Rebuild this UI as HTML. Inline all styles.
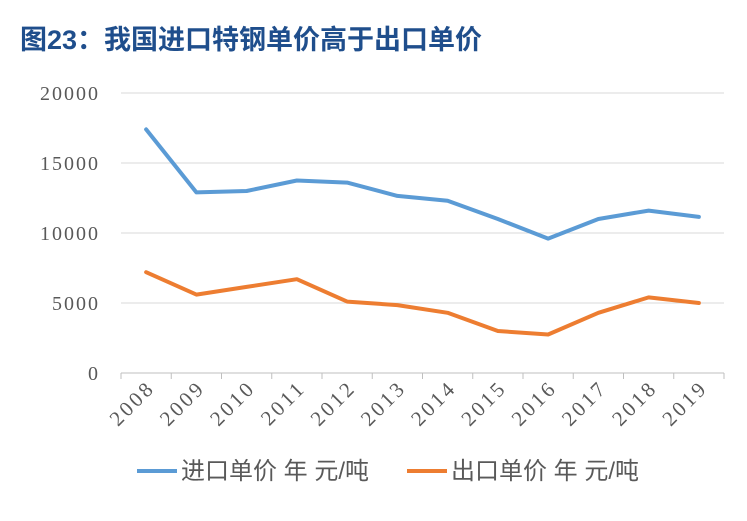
<!DOCTYPE html>
<html><head><meta charset="utf-8"><style>
body{margin:0;background:#fff;width:747px;height:521px;overflow:hidden}
#title{position:absolute;left:20px;top:18px;font:bold 27px "Liberation Sans","Noto Sans CJK SC",sans-serif;color:#1f4e8c;white-space:nowrap}
</style></head><body>
<div id="title">图23：我国进口特钢单价高于出口单价</div>
<svg id="chart" width="747" height="521" style="position:absolute;left:0;top:0"></svg>
<script>
const years=["2008","2009","2010","2011","2012","2013","2014","2015","2016","2017","2018","2019"];
const importPrice=[17400,12900,13000,13750,13600,12650,12300,11000,9600,11000,11600,11150];
const exportPrice=[7200,5600,6150,6700,5100,4850,4300,3000,2750,4300,5400,5000];
const yTicks=[0,5000,10000,15000,20000];
const svg=document.getElementById('chart');const NS='http://www.w3.org/2000/svg';
const L=121,R=724,T=93,B=373;
const step=(R-L)/years.length;
const x=i=>L+step*(i+0.5);
const y=v=>B-(v/20000)*(B-T);
function mk(t,a){const e=document.createElementNS(NS,t);for(const k in a)e.setAttribute(k,a[k]);svg.appendChild(e);return e;}
yTicks.forEach(v=>{
 const g=mk('line',{x1:L,x2:R,y1:y(v),y2:y(v),stroke:v===0?'#bfbfbf':'#d9d9d9','stroke-width':1});
 
 
 const t=mk('text',{x:100,y:y(v)+7,'text-anchor':'end','font-family':'Liberation Serif, serif','font-size':20,'letter-spacing':2,fill:'#595959'});
 t.textContent=v;
 
 
});
for(let i=0;i<=years.length;i++){const tk=mk('line',{x1:L+step*i,x2:L+step*i,y1:B,y2:B+6,stroke:'#bfbfbf'});
 
 }
years.forEach((yr,i)=>{
 const t=mk('text',{x:x(i)+10,y:B+16,'text-anchor':'end','font-family':'Liberation Serif, serif','font-size':21,'letter-spacing':3,fill:'#595959',transform:`rotate(-45 ${x(i)+10} ${B+16})`});
 t.textContent=yr;
 
 
});
function series(data,color,name){
 const p=mk('polyline',{points:data.map((v,i)=>x(i)+','+y(v)).join(' '),fill:'none',stroke:color,'stroke-width':4,'stroke-linejoin':'round','stroke-linecap':'round'});
 
 
}
series(importPrice,'#5b9bd5','import-price-line');
series(exportPrice,'#ed7d31','export-price-line');
function legend(x0,color,label,name){
 const l=mk('line',{x1:x0,x2:x0+40,y1:471,y2:471,stroke:color,'stroke-width':4});
 
 
 const t=mk('text',{x:x0+44,y:479,'font-family':'Liberation Sans, Noto Sans CJK SC, sans-serif','font-size':24,fill:'#595959'});
 t.textContent=label;
 
 
}
legend(137,'#5b9bd5','进口单价 年 元/吨','legend-import');
legend(407,'#ed7d31','出口单价 年 元/吨','legend-export');
</script>
</body></html>
